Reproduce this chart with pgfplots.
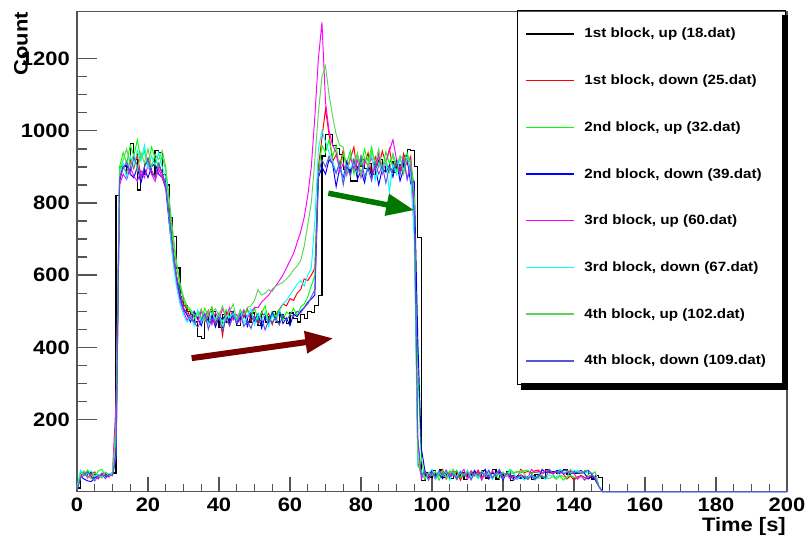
\documentclass[border=0pt]{standalone}
\usepackage{fontspec}
\setmainfont{Liberation Sans}[FakeStretch=1.13]
\usepackage{pgfplots}
\pgfplotsset{compat=1.18}
\usepackage{pgfplotstable}
\usetikzlibrary{arrows.meta}
\definecolor{rootlg}{rgb}{0.35,0.83,0.33}
\definecolor{rootlb}{rgb}{0.35,0.33,0.85}
\definecolor{rootgreen}{rgb}{0,1,0}
\definecolor{rootcyan}{rgb}{0,1,1}
\definecolor{rootblue}{rgb}{0,0,1}
\definecolor{rootred}{rgb}{1,0,0}
\definecolor{rootmag}{rgb}{1,0,1}
\definecolor{framegray}{gray}{0.33}
\definecolor{arrowred}{rgb}{0.47,0.0,0.0}
\definecolor{arrowgreen}{rgb}{0.0,0.47,0.0}

\pgfplotstableread{
t k r g b m c lg lb
0 10 5 8 4 6 12 7 3
1 50 45 55 42 40 60 48 38
2 45 52 48 35 55 44 58 46
3 52 40 60 30 38 50 42 55
4 40 48 45 28 50 58 36 40
5 48 55 40 38 44 42 52 30
6 45 38 58 45 35 48 46 44
7 50 46 62 40 52 40 38 50
8 42 52 44 48 46 55 54 36
9 48 44 50 42 40 47 45 48
10 52 50 46 50 55 52 49 44
11 820 120 200 90 250 150 180 100
12 900 870 900 860 850 880 890 870
13 900 905 940 900 880 910 920 895
14 890 880 910 905 865 870 950 915
15 965 920 960 880 900 930 905 880
16 920 895 930 870 875 900 935 925
17 836 935 975 900 860 945 890 905
18 880 870 920 855 890 915 940 870
19 910 900 945 895 870 960 910 900
20 900 925 905 870 905 895 950 920
21 880 890 955 900 880 930 900 890
22 945 870 925 910 860 905 935 870
23 940 905 900 880 895 940 920 910
24 880 880 930 870 870 900 945 885
25 850 850 890 840 845 870 900 850
26 760 770 800 740 760 750 810 760
27 708 680 700 650 660 640 720 670
28 620 600 630 590 580 570 640 600
29 540 550 570 540 530 520 580 550
30 515 520 530 505 500 490 540 510
31 500 505 510 490 475 470 515 495
32 490 480 500 470 490 485 505 480
33 470 495 480 500 470 460 490 470
34 430 477 498 481 468 504 489 455
35 425 505 480 460 498 470 504 475
36 485 470 508 492 483 485 473 495
37 470 490 487 472 503 464 501 450
38 500 510 512 487 463 496 495 480
39 480 465 478 456 496 476 507 465
40 455 495 493 484 478 491 487 485
41 490 432 472 478 506 460 515 445
42 470 500 504 490 485 488 480 478
43 500 460 484 470 510 482 500 460
44 480 493 499 498 476 494 520 488
45 460 475 468 463 491 474 475 467
46 495 503 496 483 470 502 505 492
47 485 482 490 503 502 467 490 458
48 470 507 502 458 482 487 510 473
49 495 473 482 488 497 507 515 452
50 480 488 510 473 510 462 530 484
51 460 467 475 493 510 492 560 464
52 490 499 495 453 525 477 545 479
53 470 479 515 486 535 497 550 448
54 485 494 470 468 545 457 560 476
55 500 463 500 496 560 490 555 470
56 470 491 485 475 570 472 570 482
57 490 505 505 500 585 500 575 462
58 480 520 475 466 600 520 580 490
59 465 515 498 481 620 530 590 475
60 495 535 490 460 640 545 600 490
61 480 530 508 492 660 560 615 485
62 470 550 487 485 690 575 625 500
63 490 560 512 500 720 585 640 495
64 480 590 520 510 760 570 680 510
65 500 585 540 525 820 600 740 520
66 497 600 570 534 900 620 800 540
67 515 620 600 545 1040 750 920 560
68 543 900 880 870 1200 950 1050 880
69 930 980 960 900 1300 1000 1150 920
70 990 1060 940 880 1080 970 1180 900
71 990 990 975 920 1000 940 1100 930
72 960 915 928 909 960 917 1040 906
73 950 934 960 845 940 885 990 882
74 935 902 888 898 886 909 960 914
75 893 947 936 869 910 860 955 850
76 893 891 912 914 876 905 883 903
77 861 923 944 880 927 895 931 874
78 861 955 880 920 895 914 907 919
79 900 883 933 866 919 882 939 885
80 920 931 904 890 870 927 875 925
81 895 907 949 856 915 871 928 871
82 910 939 915 907 905 903 899 895
83 880 875 955 875 924 935 944 861
84 905 928 901 899 892 863 910 912
85 920 899 925 850 937 911 950 880
86 890 944 891 895 881 887 896 904
87 900 910 942 885 913 919 920 855
88 915 950 910 904 945 830 886 900
89 885 896 934 872 975 908 937 890
90 905 920 885 917 921 879 905 909
91 890 886 930 861 897 924 929 877
92 930 937 920 893 929 890 880 922
93 948 905 939 925 865 930 925 866
94 945 929 907 853 918 876 915 898
95 900 800 850 860 760 700 820 780
96 705 80 350 420 140 70 100 150
97 32 47 90 120 36 59 52 44
98 52 54 35 58 55 38 34 56
99 41 42 53 45 43 50 51 32
100 58 59 44 60 52 62 47 52
101 45 38 56 40 34 35 54 41
102 60 50 32 49 51 53 42 58
103 40 62 52 36 47 44 59 45
104 49 35 41 55 54 56 38 60
105 36 53 58 43 42 32 50 40
106 55 44 45 52 59 52 62 49
107 43 56 60 34 38 41 35 36
108 52 32 40 51 50 58 53 55
109 34 52 49 47 62 45 44 43
110 51 41 36 54 35 60 56 52
111 47 58 55 42 53 40 32 34
112 54 45 43 59 44 49 52 51
113 42 60 52 38 56 36 41 47
114 59 40 34 50 32 55 58 54
115 38 49 51 62 52 43 45 42
116 50 36 47 35 41 52 60 59
117 62 55 54 53 58 34 40 38
118 35 43 42 44 45 51 49 50
119 53 52 59 56 60 47 36 62
120 44 34 38 32 40 54 55 35
121 56 51 50 52 49 42 43 53
122 32 47 62 41 36 59 52 44
123 41 42 53 45 43 50 51 32
124 45 38 56 40 34 35 54 41
125 40 62 52 36 47 44 59 45
126 36 53 58 43 42 32 50 40
127 43 56 60 34 38 41 35 36
128 34 52 49 47 62 45 44 43
129 47 58 55 42 53 40 32 34
130 42 60 52 38 56 36 41 47
131 38 49 51 62 52 43 45 42
132 62 55 54 53 58 34 40 38
133 53 52 59 56 60 47 36 62
134 56 51 50 52 49 42 43 53
135 52 54 35 58 55 38 34 56
136 58 59 44 60 52 62 47 52
137 60 50 32 49 51 53 42 58
138 49 35 41 55 54 56 38 60
139 55 44 45 52 59 52 62 49
140 52 32 40 51 50 58 53 55
141 51 41 36 54 35 60 56 52
142 54 45 43 59 44 49 52 51
143 59 40 34 50 32 55 58 54
144 50 36 47 35 41 52 60 59
145 35 43 42 44 45 51 49 50
146 44 34 38 32 40 54 55 35
147 40 15 15 15 15 15 15 15
148 0 0 0 0 0 0 0 0
200 0 0 0 0 0 0 0 0
}\data

\newcommand{\lbox}[1]{\makebox[193bp][l]{#1}}

\begin{document}
\begin{tikzpicture}
\useasboundingbox (-77bp,-50.3bp) rectangle (729bp,491.7bp);
\begin{axis}[
  at={(0,0)}, anchor=south west,
  scale only axis, width=710bp, height=480bp,
  xmin=0, xmax=200, ymin=0, ymax=1330,
  clip=false,
  axis line style={framegray, line width=1.4bp},
  xtick={0,20,...,200}, ytick={200,400,...,1200},
  minor x tick num=3, minor y tick num=3,
  tick align=inside, xtick pos=bottom, ytick pos=left,
  tick style={framegray, line width=1.4bp},
  xtick style={/pgfplots/major tick length=15bp,/pgfplots/minor tick length=8bp},
  ytick style={/pgfplots/major tick length=20bp,/pgfplots/minor tick length=10bp},
  ticklabel style={font=\fontsize{19.5}{20}\selectfont\bfseries, text=black},
  xticklabel style={anchor=north, inner sep=0pt, yshift=-6bp},
  yticklabel style={anchor=east, inner sep=0pt, xshift=-7bp},
  /pgf/number format/assume math mode=true,
  /pgf/number format/1000 sep={},
  xlabel={Time [s]},
  xlabel style={at={(axis description cs:1,0)}, anchor=north east, inner sep=0pt, yshift=-26bp, xshift=-1bp, font=\fontsize{19.5}{20}\selectfont\bfseries},
  ylabel={Count},
  ylabel style={at={(axis description cs:-0.069,1.0)}, anchor=south east, inner sep=0pt, font=\fontsize{19.5}{20}\selectfont\bfseries},
  legend style={at={(axis description cs:0.6193,1.0035)}, anchor=north west,
    draw=black, line width=1bp, fill=none,
    inner xsep=8bp, inner ysep=15bp, row sep=30bp, column sep=10bp,
    font=\fontsize{13.5}{14}\selectfont\bfseries,
    nodes={inner sep=0pt, minimum height=16.7bp}},
  legend cell align=left,
  legend image code/.code={\draw[#1, line width=1.5bp] (0bp,0bp) -- (47.7bp,0bp);},
]
\addplot[black, const plot, line width=1.2bp] table[x=t,y=k]{\data};
\addlegendentry{\lbox{1st block, up (18.dat)}}
\addplot[rootred, line width=0.95bp] table[x=t,y=r]{\data};
\addlegendentry{\lbox{1st block, down (25.dat)}}
\addplot[rootgreen, line width=0.95bp] table[x=t,y=g]{\data};
\addlegendentry{\lbox{2nd block, up (32.dat)}}
\addplot[rootblue, line width=0.95bp] table[x=t,y=b]{\data};
\addlegendentry{\lbox{2nd block, down (39.dat)}}
\addplot[rootmag, line width=0.95bp] table[x=t,y=m]{\data};
\addlegendentry{\lbox{3rd block, up (60.dat)}}
\addplot[rootcyan, line width=0.95bp] table[x=t,y=c]{\data};
\addlegendentry{\lbox{3rd block, down (67.dat)}}
\addplot[rootlg, line width=0.95bp] table[x=t,y=lg]{\data};
\addlegendentry{\lbox{4th block, up (102.dat)}}
\addplot[rootlb, line width=0.95bp] table[x=t,y=lb]{\data};
\addlegendentry{\lbox{4th block, down (109.dat)}}
\draw[arrowred, line width=6bp, -{Triangle[length=28bp, width=21bp]}] (axis cs:32.3,370) -- (axis cs:72.2,425);
\draw[arrowgreen, line width=5.5bp, -{Triangle[length=28bp, width=21bp]}] (axis cs:70.8,827) -- (axis cs:95.0,780);
% legend shadow (right and bottom strips)
\fill[black] (axis cs:198.73,1319.5) rectangle (axis cs:200.42,282.6);
\fill[black] (axis cs:125.13,300.9) rectangle (axis cs:200.42,282.6);
\end{axis}
\end{tikzpicture}
\end{document}
